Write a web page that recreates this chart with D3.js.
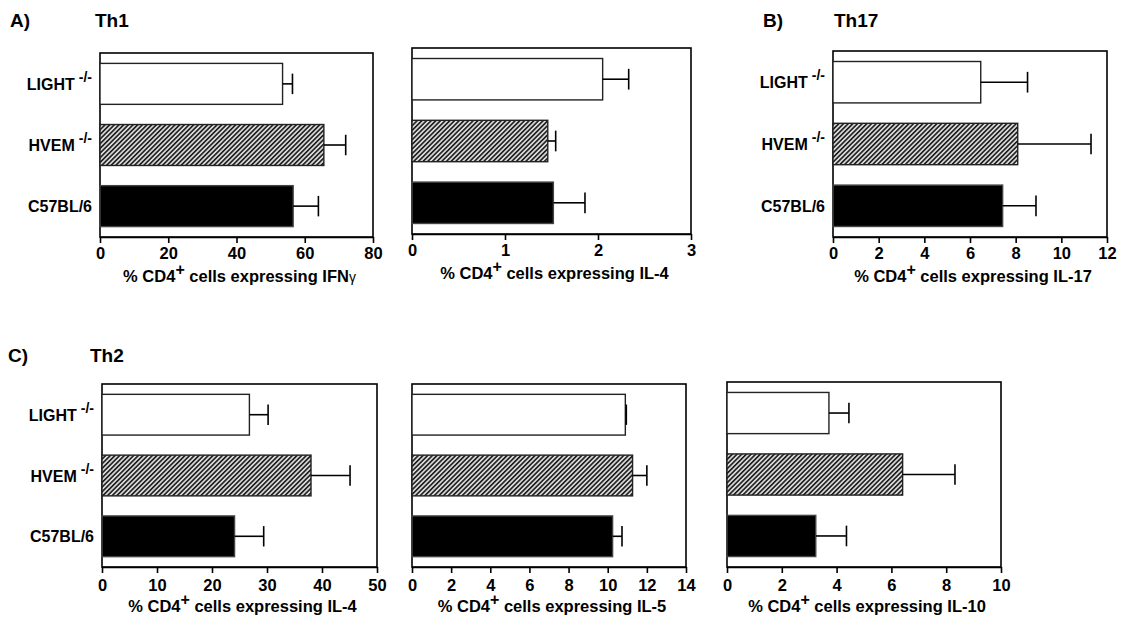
<!DOCTYPE html>
<html>
<head>
<meta charset="utf-8">
<script src="https://cdn.jsdelivr.net/npm/d3@7"></script>
<style>
  body { margin: 0; background: #fff; }
  svg { display: block; font-family: "Liberation Sans", Arial, sans-serif; font-weight: bold; }
</style>
</head>
<body>
<svg id="chart" width="1125" height="624"></svg>
<script>
// Mouse strains (top to bottom)
const strains = ["LIGHT", "HVEM", "C57BL/6"];
const knockout = [true, true, false];

// Th1: IFNg
const ifngMean = [53.5, 65.6, 56.6];
const ifngErr = [2.9, 6.4, 7.4];
const ifngTicks = [0, 20, 40, 60, 80];

// Th1: IL-4
const il4aMean = [2.05, 1.46, 1.52];
const il4aErr = [0.28, 0.085, 0.34];
const il4aTicks = [0, 1, 2, 3];

// Th17: IL-17
const il17Mean = [6.47, 8.09, 7.43];
const il17Err = [2.05, 3.21, 1.46];
const il17Ticks = [0, 2, 4, 6, 8, 10, 12];

// Th2: IL-4
const il4cMean = [26.8, 38.0, 24.1];
const il4cErr = [3.4, 7.1, 5.3];
const il4cTicks = [0, 10, 20, 30, 40, 50];

// Th2: IL-5
const il5Mean = [10.9, 11.27, 10.25];
const il5Err = [0.05, 0.73, 0.48];
const il5Ticks = [0, 2, 4, 6, 8, 10, 12, 14];

// Th2: IL-10
const il10Mean = [3.72, 6.41, 3.24];
const il10Err = [0.73, 1.91, 1.12];
const il10Ticks = [0, 2, 4, 6, 8, 10];

// panel placement on the page
const panels = [
  {mean: ifngMean, err: ifngErr, ticks: ifngTicks, cyto: "IFN", gamma: true, x0: 100, x1: 373, y0: 53, y1: 237, names: true, pad: 4},
  {mean: il4aMean, err: il4aErr, ticks: il4aTicks, cyto: "IL-4", x0: 412, x1: 691, y0: 48, y1: 234, names: false, pad: 4},
  {mean: il17Mean, err: il17Err, ticks: il17Ticks, cyto: "IL-17", x0: 833, x1: 1107, y0: 51, y1: 237, names: true, pad: 4},
  {mean: il4cMean, err: il4cErr, ticks: il4cTicks, cyto: "IL-4", x0: 102, x1: 377, y0: 384, y1: 567, names: true, pad: 6},
  {mean: il5Mean, err: il5Err, ticks: il5Ticks, cyto: "IL-5", x0: 412, x1: 686, y0: 384, y1: 567, names: false, pad: 6},
  {mean: il10Mean, err: il10Err, ticks: il10Ticks, cyto: "IL-10", x0: 727, x1: 1001, y0: 382, y1: 567, names: false, pad: 6}
];

const headers = [
  {letter: "A)", title: "Th1", x: 10, tx: 95, y: 27},
  {letter: "B)", title: "Th17", x: 763, tx: 834, y: 27},
  {letter: "C)", title: "Th2", x: 8, tx: 90, y: 362}
];

const svg = d3.select("#chart");

// hatch for the HVEM bars
const pat = svg.append("defs").append("pattern")
  .attr("id", "hatch")
  .attr("patternUnits", "userSpaceOnUse")
  .attr("width", 3.3)
  .attr("height", 3.3)
  .attr("patternTransform", "rotate(45)");
pat.append("rect").attr("width", 3.3).attr("height", 3.3).attr("fill", "#d8d8d8");
pat.append("line").attr("x1", 0.8).attr("y1", 0).attr("x2", 0.8).attr("y2", 3.3)
  .attr("stroke", "#111").attr("stroke-width", 1.5);

const fills = ["#fff", "url(#hatch)", "#000"];
const strokes = ["#222", "#222", "#444"];

headers.forEach(function(h) {
  svg.append("text").attr("x", h.x).attr("y", h.y).attr("font-size", 19).text(h.letter);
  svg.append("text").attr("x", h.tx).attr("y", h.y).attr("font-size", 19).text(h.title);
});

panels.forEach(function(p) {
  const g = svg.append("g");
  const x = d3.scaleLinear()
    .domain([0, d3.max(p.ticks)])
    .range([p.x0, p.x1]);
  const y = d3.scaleBand()
    .domain(strains)
    .range([p.y0, p.y1])
    .paddingInner(0.33)
    .paddingOuter(0.17);

  // frame
  g.append("rect")
    .attr("x", p.x0).attr("y", p.y0)
    .attr("width", p.x1 - p.x0).attr("height", p.y1 - p.y0)
    .attr("fill", "none").attr("stroke", "#000").attr("stroke-width", 1.6);

  // bars
  g.selectAll(".bar")
    .data(strains)
    .join("rect")
      .attr("class", "bar")
      .attr("x", x(0))
      .attr("y", function(d) { return y(d); })
      .attr("width", function(d, i) { return x(p.mean[i]) - x(0); })
      .attr("height", y.bandwidth())
      .attr("fill", function(d, i) { return fills[i]; })
      .attr("stroke", function(d, i) { return strokes[i]; })
      .attr("stroke-width", 1.4);

  // error bars (upper side only)
  const cap = y.bandwidth() / 2;
  strains.forEach(function(d, i) {
    const cy = y(d) + y.bandwidth() / 2;
    const xe = x(p.mean[i] + p.err[i]);
    g.append("line")
      .attr("x1", x(p.mean[i])).attr("x2", xe)
      .attr("y1", cy).attr("y2", cy)
      .attr("stroke", "#000").attr("stroke-width", 1.6);
    g.append("line")
      .attr("x1", xe).attr("x2", xe)
      .attr("y1", cy - cap / 2).attr("y2", cy + cap / 2)
      .attr("stroke", "#000").attr("stroke-width", 1.6);
  });

  // x axis
  const ax = g.append("g")
    .attr("transform", `translate(0,${p.y1})`)
    .call(d3.axisBottom(x).tickValues(p.ticks).tickFormat(d3.format("d"))
      .tickSize(6).tickSizeOuter(0).tickPadding(p.pad));
  ax.select(".domain").attr("stroke-width", 1.6);
  ax.selectAll(".tick line").attr("stroke-width", 1.6);
  ax.selectAll(".tick text")
    .attr("font-size", 16.5)
    .attr("font-family", "'Liberation Sans', Arial, sans-serif")
    .attr("font-weight", "bold")
    .attr("fill", "#000");

  // axis title
  const t = g.append("text")
    .attr("x", (p.x0 + p.x1) / 2 + 3)
    .attr("y", p.y1 + 45)
    .attr("text-anchor", "middle")
    .attr("font-size", 16.5);
  t.append("tspan").text("% CD4");
  t.append("tspan").attr("dy", -7).attr("font-size", 16).text("+");
  t.append("tspan").attr("dy", 7).text(" cells expressing " + p.cyto);
  if (p.gamma) {
    t.append("tspan").attr("font-weight", "normal").attr("font-size", 14).text("\u03b3");
  }

  // strain names
  if (p.names) {
    strains.forEach(function(d, i) {
      const lab = g.append("text")
        .attr("x", p.x0 - 8)
        .attr("y", y(d) + y.bandwidth() / 2 + 6)
        .attr("text-anchor", "end")
        .attr("font-size", 16);
      lab.append("tspan").text(d);
      if (knockout[i]) {
        lab.append("tspan").attr("dx", 4).attr("dy", -8).attr("font-size", 14).text("-/-");
      }
    });
  }
});
</script>
</body>
</html>
